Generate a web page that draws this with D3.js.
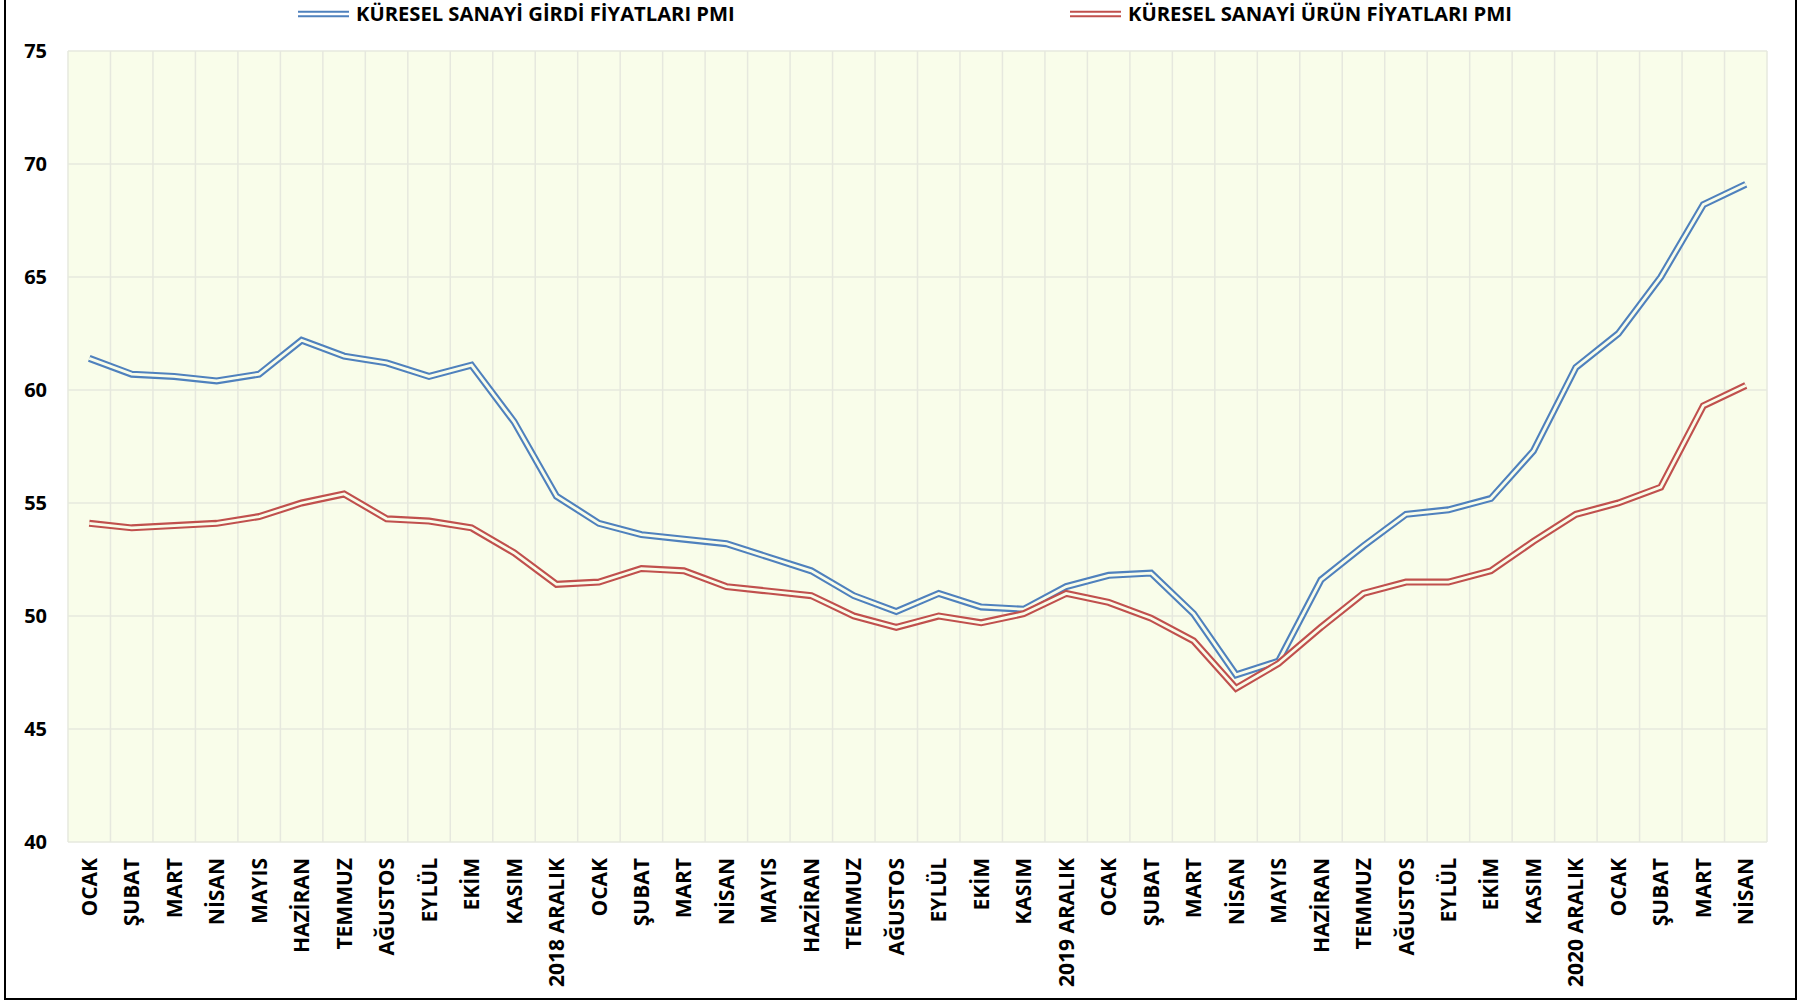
<!DOCTYPE html>
<html>
<head>
  <meta charset="UTF-8">
  <style>
    body { margin: 0; background-color: white; }
    text { font-family: "Open Sans", sans-serif; font-weight: 700; fill: black; }
    .xlab { font-family: "Liberation Sans Narrow", "Open Sans", sans-serif; }
  </style>
</head>
<body>
<svg></svg>
<script src="https://d3js.org/d3.v7.min.js"></script>
<script>

let width = 1808, height = 1001;

// months along the x axis
let months = ["OCAK", "ŞUBAT", "MART", "NİSAN", "MAYIS", "HAZİRAN", "TEMMUZ", "AĞUSTOS", "EYLÜL", "EKİM", "KASIM", "2018 ARALIK",
    "OCAK", "ŞUBAT", "MART", "NİSAN", "MAYIS", "HAZİRAN", "TEMMUZ", "AĞUSTOS", "EYLÜL", "EKİM", "KASIM", "2019 ARALIK",
    "OCAK", "ŞUBAT", "MART", "NİSAN", "MAYIS", "HAZİRAN", "TEMMUZ", "AĞUSTOS", "EYLÜL", "EKİM", "KASIM", "2020 ARALIK",
    "OCAK", "ŞUBAT", "MART", "NİSAN"];

// input prices PMI
let girdi = [61.4, 60.7, 60.6, 60.4, 60.7, 62.2, 61.5, 61.2, 60.6, 61.1, 58.6, 55.3,
    54.1, 53.6, 53.4, 53.2, 52.6, 52.0, 50.9, 50.2, 51.0, 50.4, 50.3, 51.3,
    51.8, 51.9, 50.1, 47.4, 48.0, 51.6, 53.1, 54.5, 54.7, 55.2, 57.3, 61.0,
    62.5, 65.0, 68.2, 69.1];

// output prices PMI
let urun = [54.1, 53.9, 54.0, 54.1, 54.4, 55.0, 55.4, 54.3, 54.2, 53.9, 52.8, 51.4,
    51.5, 52.1, 52.0, 51.3, 51.1, 50.9, 50.0, 49.5, 50.0, 49.7, 50.1, 51.0,
    50.6, 49.9, 48.9, 46.8, 47.9, 49.5, 51.0, 51.5, 51.5, 52.0, 53.3, 54.5,
    55.0, 55.7, 59.3, 60.2];

let yTicks = [40, 45, 50, 55, 60, 65, 70, 75];

let seriesNames = ["KÜRESEL SANAYİ GİRDİ FİYATLARI PMI", "KÜRESEL SANAYİ ÜRÜN FİYATLARI PMI"];
let seriesColors = ["#4f81bd", "#c0504d"];

let plotBg = "#f9fdea";
let gridColor = "#e6e8de";

let margin = {left: 68, right: 1767, top: 51, bottom: 842};

let svg = d3.select("svg")
    .attr("width", width)
    .attr("height", height)
    .attr("viewBox", "0 0 " + width + " " + height);

let x = d3.scaleBand()
    .domain(d3.range(months.length))
    .range([margin.left, margin.right]);

let y = d3.scaleLinear()
    .domain([40, 75])
    .range([margin.bottom, margin.top]);

// plot area
svg.append("rect")
    .attr("x", margin.left)
    .attr("y", margin.top)
    .attr("width", margin.right - margin.left)
    .attr("height", margin.bottom - margin.top)
    .attr("fill", plotBg);

// vertical grid at band edges
let edges = d3.range(months.length + 1).map(i => margin.left + i * x.bandwidth());
svg.append("g")
    .selectAll("line")
    .data(edges)
    .enter()
    .append("line")
    .attr("x1", d => d).attr("x2", d => d)
    .attr("y1", margin.top).attr("y2", margin.bottom)
    .attr("stroke", gridColor)
    .attr("stroke-width", 1.5);

// horizontal grid
svg.append("g")
    .selectAll("line")
    .data(yTicks)
    .enter()
    .append("line")
    .attr("x1", margin.left).attr("x2", margin.right)
    .attr("y1", d => y(d)).attr("y2", d => y(d))
    .attr("stroke", gridColor)
    .attr("stroke-width", 1.5);

// y axis labels
let yAxis = d3.axisLeft(y).tickValues(yTicks).tickSize(0).tickPadding(0);
let gy = svg.append("g")
    .attr("transform", "translate(47,0)")
    .call(yAxis);
gy.select(".domain").remove();
gy.selectAll("text")
    .style("font-family", "'Open Sans', sans-serif")
    .style("font-weight", 700)
    .style("font-size", "20px")
    .attr("fill", "black");

// x axis labels (rotated)
svg.append("g")
    .selectAll("text")
    .data(months)
    .enter()
    .append("text")
    .attr("class", "xlab")
    .attr("transform", (d, i) => "translate(" + (x(i) + x.bandwidth() / 2) + ",858) rotate(-90)")
    .attr("text-anchor", "end")
    .attr("dy", "0.36em")
    .style("font-size", "21px")
    .text(d => d);

// double (compound) lines
let line = d3.line()
    .x((d, i) => x(i) + x.bandwidth() / 2)
    .y(d => y(d));

[girdi, urun].forEach((series, k) => {
    svg.append("path")
        .datum(series)
        .attr("d", line)
        .attr("fill", "none")
        .attr("stroke", seriesColors[k])
        .attr("stroke-width", 7)
        .attr("stroke-linejoin", "miter");
    svg.append("path")
        .datum(series)
        .attr("d", line)
        .attr("fill", "none")
        .attr("stroke", plotBg)
        .attr("stroke-width", 2.8)
        .attr("stroke-linejoin", "miter");
});

// legend
let legendX = [298, 1070];
let legendTextWidth = [379, 384];
seriesNames.forEach((name, k) => {
    let g = svg.append("g").attr("transform", "translate(" + legendX[k] + ",0)");
    g.append("line")
        .attr("x1", 0).attr("x2", 51)
        .attr("y1", 14).attr("y2", 14)
        .attr("stroke", seriesColors[k])
        .attr("stroke-width", 6.5);
    g.append("line")
        .attr("x1", 0).attr("x2", 51)
        .attr("y1", 14).attr("y2", 14)
        .attr("stroke", "white")
        .attr("stroke-width", 2.6);
    let t = g.append("text")
        .attr("x", 58)
        .attr("y", 21)
        .style("font-size", "20px")
        .text(name);
    // fit the label width to the reference
    let w = t.node().getComputedTextLength();
    t.style("font-size", (20 * legendTextWidth[k] / w) + "px");
});

// outer frame
svg.append("rect")
    .attr("x", 5)
    .attr("y", -10)
    .attr("width", 1791)
    .attr("height", 1009)
    .attr("fill", "none")
    .attr("stroke", "black")
    .attr("stroke-width", 2);

</script>
</body>
</html>
